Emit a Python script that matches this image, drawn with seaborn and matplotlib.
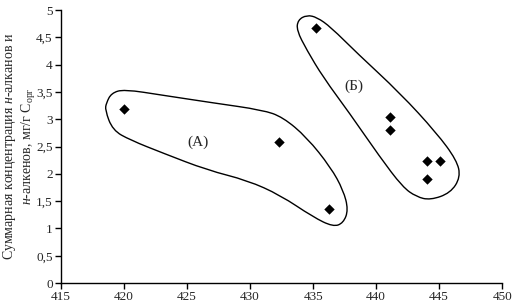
import numpy as np
import matplotlib
matplotlib.use("Agg")
import matplotlib.pyplot as plt
from matplotlib.path import Path
from matplotlib.patches import PathPatch
import seaborn as sns

# data points (temperature-like x vs concentration)
x_a = [420, 432.3, 436.3]
y_a = [3.18, 2.58, 1.36]
x_b = [435.2, 441.1, 441.1, 444.0, 445.1, 444.0]
y_b = [4.67, 3.04, 2.81, 2.23, 2.23, 1.90]

# hand-drawn group outlines (data coords)
outline_a = [(419.0, 3.48), (418.6, 3.30), (418.5, 3.17), (419.1, 2.80), (420.5, 2.62),
             (423.1, 2.38), (426.6, 2.07), (429.8, 1.88), (432.4, 1.61), (435.0, 1.21),
             (436.6, 1.03), (437.4, 1.10), (437.8, 1.34), (437.4, 1.70), (436.4, 2.12),
             (434.5, 2.67), (432.6, 3.04), (431.0, 3.17), (427.1, 3.30), (423.1, 3.44),
             (420.0, 3.55)]
outline_b = [(434.5, 4.91), (433.8, 4.82), (433.7, 4.63), (434.5, 4.27), (435.8, 3.77),
             (437.9, 3.11), (440.3, 2.31), (442.1, 1.76), (443.2, 1.58), (444.3, 1.52),
             (445.9, 1.65), (446.7, 1.94), (446.4, 2.25), (444.8, 2.75), (441.9, 3.48),
             (438.5, 4.21), (436.4, 4.69), (435.3, 4.87)]

xticks = [415, 420, 425, 430, 435, 440, 445, 450]
yticks = [0, 0.5, 1, 1.5, 2, 2.5, 3, 3.5, 4, 4.5, 5]

sns.set_style("white")
plt.rcParams['font.family'] = ['Liberation Serif', 'DejaVu Serif']
plt.rcParams['mathtext.fontset'] = 'custom'
plt.rcParams['mathtext.rm'] = 'Liberation Serif'
plt.rcParams['mathtext.it'] = 'Liberation Serif:italic'


def smooth_closed(pts):
    # quadratic bezier through midpoints -> smooth closed outline
    pts = np.array(pts)
    n = len(pts)
    verts, codes = [], []
    mids = [(pts[i] + pts[(i + 1) % n]) / 2 for i in range(n)]
    verts.append(mids[-1]); codes.append(Path.MOVETO)
    for i in range(n):
        verts.append(pts[i]); codes.append(Path.CURVE3)
        verts.append(mids[i]); codes.append(Path.CURVE3)
    return Path(verts, codes)


fig = plt.figure(figsize=(5.19, 3.07), dpi=100)
ax = fig.add_axes([0.1175, 0.078, 0.85, 0.889])

for o in (outline_a, outline_b):
    ax.add_patch(PathPatch(smooth_closed(o), facecolor='none', edgecolor='black', lw=1.0))

sns.scatterplot(x=x_a + x_b, y=y_a + y_b, marker='D', color='black', s=28,
                edgecolor='black', linewidth=0, ax=ax, zorder=3)

ax.text(425.9, 2.58, '(А)', fontsize=11, ha='center', va='center')
ax.text(438.2, 3.61, '(Б)', fontsize=11, ha='center', va='center')

ax.set_xlim(415, 450)
ax.set_ylim(0, 5)
ax.set_xticks(xticks)
ax.set_yticks(yticks)
ax.set_xticklabels([str(t) for t in xticks])
ax.set_yticklabels([('%g' % t).replace('.', ',') for t in yticks])
ax.tick_params(axis='both', direction='out', length=4, width=1, labelsize=9.5, color='black', pad=2)
ax.tick_params(left=True, bottom=True)
for s in ('top', 'right'):
    ax.spines[s].set_visible(False)
for s in ('left', 'bottom'):
    ax.spines[s].set_color('black')
    ax.spines[s].set_linewidth(1.0)

ax.set_ylabel('Суммарная концентрация $\\mathit{н}$-алканов и\n$\\mathit{н}$-алкенов, мг/г C$_{\\mathrm{орг}}$',
              fontsize=10, linespacing=1.1)
ax.yaxis.set_label_coords(-0.053, 0.5)

fig.savefig('out.png', dpi=100)
